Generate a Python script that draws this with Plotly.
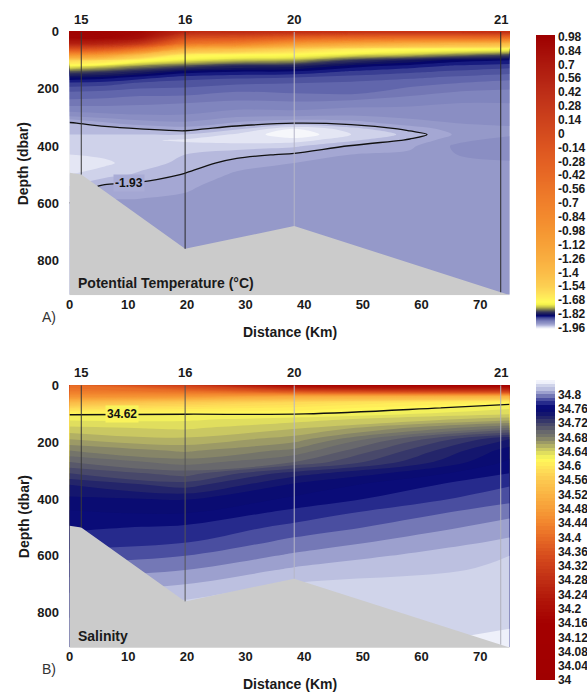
import numpy as np
import plotly.graph_objects as go

# ---------------- data ----------------
station_names = ["15", "16", "20", "21"]
station_km = [2.0, 19.7, 38.3, 73.5]

bathy_km = [0.0, 2.0, 19.7, 38.3, 75.0]
bathy_dbar = [494, 500, 760, 680, 922]

# Potential temperature profiles (deg C) at each distance column
temp_km = [0, 6, 12, 19.7, 28.5, 38.3, 48, 58, 66, 75]
temp_dbar = [0, 20, 40, 60, 80, 100, 120, 140, 160, 180, 210, 250, 290, 320,
             340, 360, 380, 400, 430, 460, 500, 540, 600, 700, 800, 920]
temp_x00 = [0.95, 0.93, 0.6, -0.1, -0.95, -1.57, -1.72, -1.79, -1.83, -1.853, -1.87, -1.885, -1.905, -1.932,
            -1.936, -1.94, -1.945, -1.942, -1.95, -1.955, -1.95, -1.94, -1.93, -1.925, -1.925, -1.925]
temp_x06 = [0.95, 0.92, 0.55, -0.2, -1.05, -1.62, -1.745, -1.80, -1.835, -1.855, -1.872, -1.886, -1.902, -1.922,
            -1.936, -1.94, -1.946, -1.942, -1.948, -1.952, -1.945, -1.928, -1.92, -1.918, -1.918, -1.918]
temp_x12 = [0.9, 0.8, 0.3, -0.6, -1.4, -1.70, -1.77, -1.815, -1.845, -1.862, -1.875, -1.888, -1.90, -1.915,
            -1.93, -1.94, -1.948, -1.945, -1.942, -1.945, -1.938, -1.926, -1.918, -1.915, -1.915, -1.915]
temp_x20 = [0.5, 0.0, -0.55, -1.3, -1.66, -1.73, -1.79, -1.835, -1.855, -1.865, -1.875, -1.89, -1.90, -1.912,
            -1.925, -1.94, -1.952, -1.945, -1.94, -1.937, -1.929, -1.922, -1.917, -1.915, -1.915, -1.915]
temp_x28 = [0.45, -0.1, -0.7, -1.4, -1.69, -1.75, -1.81, -1.84, -1.858, -1.868, -1.88, -1.893, -1.905, -1.922,
            -1.938, -1.952, -1.955, -1.945, -1.934, -1.925, -1.918, -1.915, -1.915, -1.915, -1.915, -1.915]
temp_x38 = [0.4, -0.3, -1.0, -1.55, -1.70, -1.76, -1.815, -1.842, -1.86, -1.87, -1.878, -1.892, -1.905, -1.93,
            -1.96, -1.968, -1.955, -1.942, -1.928, -1.92, -1.916, -1.915, -1.915, -1.915, -1.915, -1.915]
temp_x48 = [0.35, -0.4, -1.15, -1.65, -1.73, -1.80, -1.835, -1.852, -1.864, -1.872, -1.876, -1.895, -1.908, -1.925,
            -1.945, -1.95, -1.942, -1.929, -1.92, -1.916, -1.915, -1.915, -1.915, -1.915, -1.915, -1.915]
temp_x58 = [0.35, -0.45, -1.25, -1.69, -1.75, -1.82, -1.845, -1.858, -1.868, -1.876, -1.885, -1.898, -1.905, -1.915,
            -1.926, -1.937, -1.928, -1.922, -1.918, -1.915, -1.915, -1.915, -1.915, -1.915, -1.915, -1.915]
temp_x66 = [0.35, -0.45, -1.3, -1.70, -1.77, -1.835, -1.852, -1.862, -1.872, -1.88, -1.89, -1.90, -1.905, -1.91,
            -1.915, -1.918, -1.913, -1.908, -1.91, -1.913, -1.915, -1.915, -1.915, -1.915, -1.915, -1.915]
temp_x75 = [0.4, -0.5, -1.35, -1.71, -1.79, -1.84, -1.856, -1.866, -1.876, -1.884, -1.892, -1.90, -1.905, -1.908,
            -1.912, -1.912, -1.905, -1.902, -1.905, -1.912, -1.915, -1.915, -1.915, -1.915, -1.915, -1.915]

# Salinity profiles
sal_km = [0, 19.7, 38.3, 75]
sal_dbar = [0, 20, 40, 60, 80, 100, 120, 150, 190, 230, 270, 310, 350, 400, 450,
            500, 550, 600, 650, 700, 760, 840, 920]
sal_x00 = [34.40, 34.42, 34.46, 34.53, 34.58, 34.618, 34.628, 34.642, 34.66, 34.68, 34.70, 34.72, 34.74,
           34.752, 34.762, 34.768, 34.775, 34.785, 34.795, 34.805, 34.815, 34.822, 34.826]
sal_x20 = [34.32, 34.40, 34.47, 34.56, 34.595, 34.619, 34.628, 34.638, 34.652, 34.668, 34.685, 34.705, 34.725,
           34.749, 34.76, 34.772, 34.779, 34.79, 34.80, 34.81, 34.821, 34.825, 34.828]
sal_x38 = [34.18, 34.34, 34.50, 34.58, 34.603, 34.618, 34.635, 34.648, 34.665, 34.683, 34.70, 34.735, 34.752,
           34.762, 34.774, 34.783, 34.793, 34.802, 34.812, 34.821, 34.823, 34.825, 34.826]
sal_x75 = [34.15, 34.30, 34.52, 34.615, 34.628, 34.638, 34.655, 34.69, 34.74, 34.755, 34.762, 34.77, 34.779,
           34.787, 34.797, 34.805, 34.812, 34.82, 34.822, 34.824, 34.826, 34.829, 34.834]

temp_ticks = [0.98, 0.84, 0.7, 0.56, 0.42, 0.28, 0.14, 0, -0.14, -0.28, -0.42, -0.56, -0.7, -0.84,
              -0.98, -1.12, -1.26, -1.4, -1.54, -1.68, -1.82, -1.96]
sal_ticks = [34.8, 34.76, 34.72, 34.68, 34.64, 34.6, 34.56, 34.52, 34.48, 34.44, 34.4, 34.36,
             34.32, 34.28, 34.24, 34.2, 34.16, 34.12, 34.08, 34.04, 34.0]
x_ticks = [0, 10, 20, 30, 40, 50, 60, 70]
y_ticks = [0, 200, 400, 600, 800]

# contour labels: (value, km, dbar)
temp_label = (-1.93, 10.2, 530)
sal_label = (34.62, 8.9, 102)

# ---------------- styling ----------------
temp_cols = [(-1.97, '#ffffff'), (-1.955, '#e4e6f4'), (-1.945, '#cfd2ea'), (-1.935, '#b6b9dd'),
             (-1.925, '#a4a7d3'), (-1.915, '#9599c9'), (-1.905, '#8a8ec3'), (-1.895, '#8085be'),
             (-1.885, '#7377b5'), (-1.875, '#6267ac'), (-1.865, '#50559f'), (-1.855, '#3a3f93'),
             (-1.845, '#181c80'), (-1.835, '#05066a'), (-1.825, '#101260'), (-1.80, '#33345a'),
             (-1.775, '#7a7a4e'), (-1.75, '#c4c248'), (-1.725, '#f2f04c'), (-1.70, '#fffb56'),
             (-1.66, '#ffee5a'), (-1.60, '#fedd58'), (-1.54, '#fccf52'), (-1.40, '#fbbd48'),
             (-1.26, '#f9ae40'), (-1.12, '#f7a238'), (-0.98, '#f59632'), (-0.84, '#f38a2e'),
             (-0.70, '#f0802b'), (-0.56, '#ec7528'), (-0.42, '#e86a25'), (-0.28, '#e36023'),
             (-0.14, '#dd5620'), (0.0, '#d54c1e'), (0.14, '#cd421c'), (0.28, '#c5381a'),
             (0.42, '#bd2e17'), (0.56, '#b52413'), (0.70, '#ae1a0e'), (0.84, '#a60e08'), (1.0, '#9e0000')]
sal_cols = [(34.00, '#a00000'), (34.16, '#a40000'), (34.22, '#b01408'), (34.28, '#c02e14'),
            (34.34, '#d4481c'), (34.40, '#e86c26'), (34.44, '#f2862e'), (34.48, '#f79e38'),
            (34.52, '#fab444'), (34.56, '#fcc950'), (34.59, '#fee058'), (34.615, '#fff65a'),
            (34.625, '#f2f05c'), (34.635, '#e0de5e'), (34.645, '#cac862'), (34.655, '#b2b064'),
            (34.665, '#9c9a66'), (34.675, '#868568'), (34.685, '#74746a'), (34.695, '#68686c'),
            (34.705, '#58586a'), (34.715, '#48486a'), (34.725, '#36376a'), (34.735, '#24256a'),
            (34.745, '#14166e'), (34.755, '#0a0c72'), (34.765, '#0a0c78'), (34.775, '#262a8c'),
            (34.785, '#4a4ea0'), (34.795, '#7478b6'), (34.805, '#9ca0ce'), (34.815, '#bcc0e0'),
            (34.825, '#d0d4ea'), (34.835, '#eef0fa'), (34.84, '#f2f3fb')]


def scale(cols, lo, hi):
    return [[(v - lo) / (hi - lo), c] for v, c in cols]


W, H = 587, 695
FONT = "Liberation Sans, Arial, sans-serif"
GRAY = '#cbcbcb'

x_dom = [66 / W, 509 / W]
yA_dom = [1 - 291 / H, 1 - 25 / H]
yB_dom = [1 - 647 / H, 1 - 382 / H]

temp_grid = np.array([temp_x00, temp_x06, temp_x12, temp_x20, temp_x28, temp_x38,
                      temp_x48, temp_x58, temp_x66, temp_x75]).T
sal_grid = np.array([sal_x00, sal_x20, sal_x38, sal_x75]).T

fig = go.Figure()

t_lo, t_hi = -1.97, 1.0
fig.add_trace(go.Contour(
    x=temp_km, y=temp_dbar, z=temp_grid, xaxis='x', yaxis='y',
    colorscale=scale(temp_cols, t_lo, t_hi), zmin=t_lo, zmax=t_hi, zauto=False,
    contours=dict(start=t_lo, end=t_hi, size=0.01, coloring='fill', showlines=False),
    line=dict(width=0, smoothing=1.0), hoverinfo='skip',
    colorbar=dict(x=536 / W, xanchor='left', xpad=0, ypad=0, thickness=19,
                  len=294, lenmode='pixels', y=1 - 28 / H, yanchor='top',
                  outlinewidth=0, ticks='', tickvals=temp_ticks,
                  ticktext=[f"{v:g}" for v in temp_ticks],
                  tickfont=dict(family=FONT, size=12, color='#1a1a1a', weight='bold'))))
fig.add_trace(go.Contour(
    x=temp_km, y=temp_dbar, z=temp_grid, xaxis='x', yaxis='y', showscale=False,
    contours=dict(start=temp_label[0], end=temp_label[0], size=1, coloring='none'),
    line=dict(width=1.3, color='#111', smoothing=1.0), hoverinfo='skip'))

s_lo, s_hi = 34.0, 34.84
fig.add_trace(go.Contour(
    x=sal_km, y=sal_dbar, z=sal_grid, xaxis='x2', yaxis='y2',
    colorscale=scale(sal_cols, s_lo, s_hi), zmin=s_lo, zmax=s_hi, zauto=False,
    contours=dict(start=s_lo, end=s_hi, size=0.01, coloring='fill', showlines=False),
    line=dict(width=0, smoothing=1.0), hoverinfo='skip',
    colorbar=dict(x=536 / W, xanchor='left', xpad=0, ypad=0, thickness=19,
                  len=300, lenmode='pixels', y=1 - 377 / H, yanchor='top',
                  outlinewidth=0, ticks='', tickvals=sal_ticks,
                  ticktext=[f"{v:g}" for v in sal_ticks],
                  tickfont=dict(family=FONT, size=12, color='#1a1a1a', weight='bold'))))
fig.add_trace(go.Contour(
    x=sal_km, y=sal_dbar, z=sal_grid, xaxis='x2', yaxis='y2', showscale=False,
    contours=dict(start=sal_label[0], end=sal_label[0], size=1, coloring='none'),
    line=dict(width=1.3, color='#111', smoothing=1.0), hoverinfo='skip'))

# bathymetry and station lines
station_bottom = np.interp(station_km, bathy_km, bathy_dbar)
line_cols = {'': ['#3a3a3a', '#2a2a2a', '#b4b4c8', '#2a2a2a'],
             '2': ['#3a3a3a', '#555555', '#b8b8c8', '#b0b0bc']}
for ax in ['', '2']:
    fig.add_trace(go.Scatter(
        x=bathy_km + [75, 0], y=bathy_dbar + [940, 940], fill='toself', fillcolor=GRAY,
        mode='lines', line=dict(width=0, color=GRAY), xaxis='x' + ax, yaxis='y' + ax,
        hoverinfo='skip', showlegend=False))
    for i, km in enumerate(station_km):
        fig.add_trace(go.Scatter(
            x=[km, km], y=[0, station_bottom[i]], mode='lines',
            line=dict(width=1, color=line_cols[ax][i]), xaxis='x' + ax, yaxis='y' + ax,
            hoverinfo='skip', showlegend=False))

axis_font = dict(family=FONT, size=13, color='#1a1a1a', weight='bold')
xcommon = dict(range=[0, 75], domain=x_dom, tickvals=x_ticks, ticks='', ticklabelstandoff=0,
               showgrid=False, zeroline=False, showline=False, tickfont=axis_font)
ycommon = dict(range=[922, 0], tickvals=y_ticks, ticks='outside', ticklen=7,
               tickcolor='rgba(0,0,0,0)', showgrid=False, zeroline=False, showline=False,
               tickfont=axis_font)

fig.update_layout(
    width=W, height=H, margin=dict(l=0, r=0, t=0, b=0),
    paper_bgcolor='white', plot_bgcolor=GRAY, showlegend=False,
    xaxis=dict(**xcommon, anchor='y'),
    yaxis=dict(**ycommon, domain=yA_dom, anchor='x'),
    xaxis2=dict(**xcommon, anchor='y2'),
    yaxis2=dict(**ycommon, domain=yB_dom, anchor='x2'),
)

title_font = dict(family=FONT, size=14, color='#1a1a1a', weight='bold')
ann = []
for ax, ytop, ybot, panel, label, clab, cbg in [
        ('', 25, 291, 'A)', 'Potential Temperature (°C)', temp_label, '#a9acd6'),
        ('2', 382, 647, 'B)', 'Salinity', sal_label, '#f9f35b')]:
    for name, km in zip(station_names, station_km):
        ann.append(dict(text=name, x=km, xref='x' + ax, y=1 - (ytop - 3) / H, yref='paper',
                        xanchor='center', yanchor='bottom', showarrow=False, font=axis_font))
    ann.append(dict(text='Depth (dbar)', textangle=-90, x=20 / W, y=1 - (ytop + ybot) / 2 / H,
                    xref='paper', yref='paper', xanchor='center', yanchor='middle',
                    showarrow=False, font=title_font))
    ann.append(dict(text='Distance (Km)', x=287.5 / W, y=1 - (ybot + 37) / H,
                    xref='paper', yref='paper', xanchor='center', yanchor='middle',
                    showarrow=False, font=title_font))
    ann.append(dict(text=panel, x=45 / W, y=1 - (ybot + 22) / H, xref='paper', yref='paper',
                    xanchor='center', yanchor='middle',
                    showarrow=False, font=dict(family=FONT, size=14, color='#333')))
    ann.append(dict(text=label, x=72 / W, xanchor='left', y=1 - (ybot - 12) / H,
                    xref='paper', yref='paper', yanchor='middle', showarrow=False, font=title_font))
    ann.append(dict(text=f"{clab[0]:.2f}", x=clab[1], y=clab[2], xref='x' + ax, yref='y' + ax,
                    xanchor='center', yanchor='middle', showarrow=False, bgcolor=cbg,
                    borderpad=1, font=dict(family=FONT, size=12, color='#111', weight='bold')))
fig.update_layout(annotations=ann)

fig.write_html("out.html")
